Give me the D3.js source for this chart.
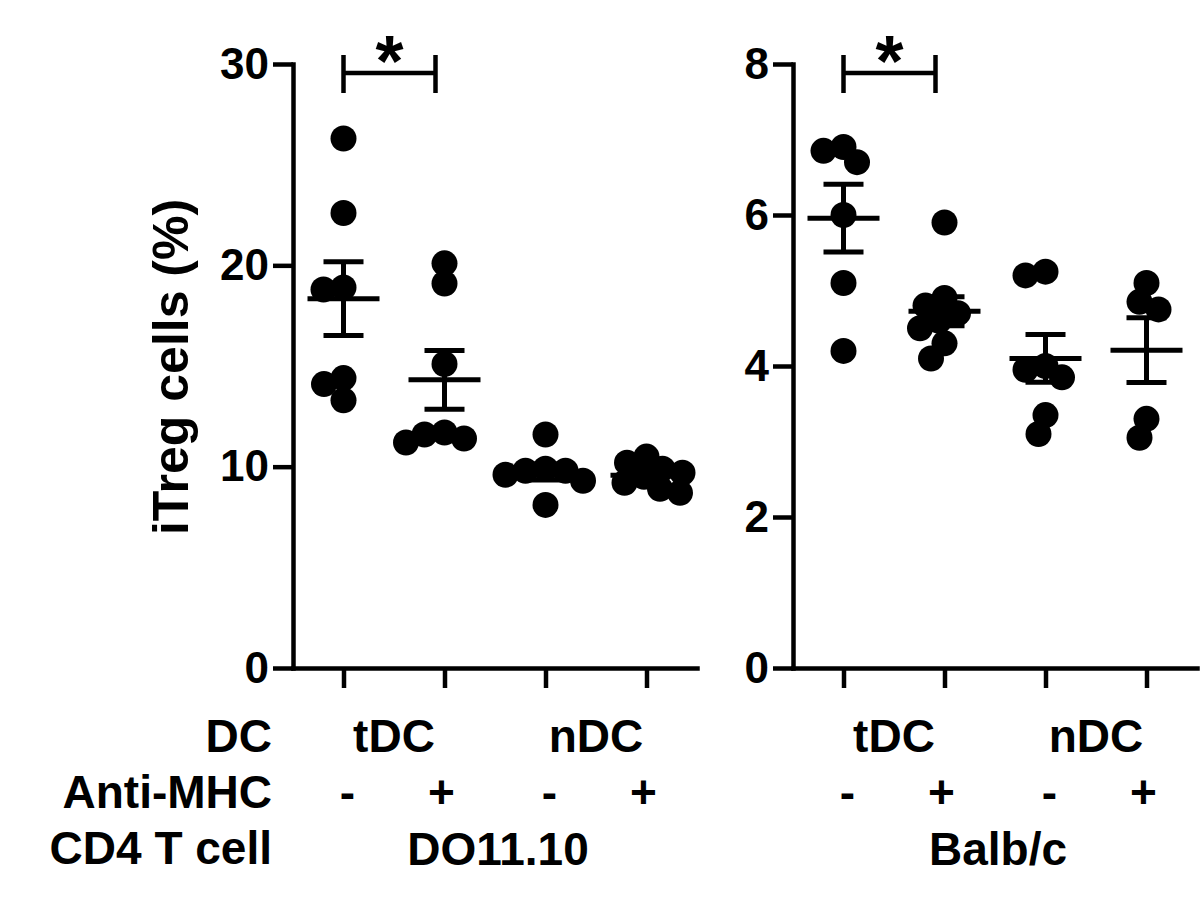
<!DOCTYPE html>
<html>
<head>
<meta charset="utf-8">
<script src="https://cdn.jsdelivr.net/npm/d3@7"></script>
<style>
  html, body { margin: 0; padding: 0; background: #ffffff; }
  svg { display: block; }
  text { font-family: "Liberation Sans", Arial, sans-serif; font-weight: bold; fill: #000; }
</style>
</head>
<body>
<svg id="chart" width="1200" height="901"></svg>
<script>
// ---------------- data ----------------
const groupKeys = ["tDC-", "tDC+", "nDC-", "nDC+"];
const dcLabels = ["tDC", "nDC"];
const antiMHCLabels = ["-", "+", "-", "+"];
const rowLabels = ["DC", "Anti-MHC", "CD4 T cell"];
const yTitle = "iTreg cells (%)";
const panelTitles = ["DO11.10", "Balb/c"];

const do11Values = [
  [26.3, 22.6, 18.9, 18.8, 14.4, 14.1, 13.3],
  [20.1, 19.1, 15.1, 11.7, 11.6, 11.4, 11.2],
  [11.6, 9.9, 9.8, 9.8, 9.6, 9.3, 8.1],
  [10.5, 10.2, 9.9, 9.7, 9.5, 9.2, 8.9, 8.7]
];
const balbValues = [
  [6.85, 6.9, 6.7, 6.0, 5.1, 4.2],
  [5.9, 4.9, 4.8, 4.7, 4.6, 4.5, 4.3, 4.1],
  [5.25, 5.2, 4.0, 3.95, 3.85, 3.35, 3.1],
  [5.1, 4.85, 4.75, 3.3, 3.05]
];
const do11Ticks = [0, 10, 20, 30];
const balbTicks = [0, 2, 4, 6, 8];
const do11Max = 30;
const balbMax = 8;
const sigLabel = "*";

// ---------------- layout ----------------
const svg = d3.select("#chart");
const yTop = 64, yBottom = 668;
const dotR = 13;
const lw = 4.5;

function beeswarm(vals, y, cx, minDist) {
  const placed = [];
  const sorted = vals.map((v, i) => ({v, i})).sort((a, b) => b.v - a.v);
  sorted.forEach(d => {
    const py = y(d.v);
    let chosen = 0;
    for (let k = 0; k < 200; k++) {
      const cands = k === 0 ? [0] : [-k * 0.5, k * 0.5];
      let ok = null;
      for (const off of cands) {
        const good = placed.every(p => Math.hypot(p.x - (cx + off), p.y - py) >= minDist);
        if (good) { ok = off; break; }
      }
      if (ok !== null) { chosen = ok; break; }
    }
    placed.push({x: cx + chosen, y: py, v: d.v});
  });
  return placed;
}

function drawPanel(cfg) {
  const g = svg.append("g");
  const x = d3.scalePoint().domain(groupKeys).range([cfg.x0, cfg.x1]).padding(0.5);
  const y = d3.scaleLinear().domain([0, cfg.max]).range([yBottom, yTop]);

  // y axis
  const yAxis = d3.axisLeft(y).tickValues(cfg.ticks).tickSize(20).tickSizeOuter(0).tickPadding(4);
  const ya = g.append("g").attr("transform", `translate(${cfg.x0},0)`).call(yAxis);
  ya.select(".domain").attr("stroke", "#000").attr("stroke-width", lw).attr("stroke-linecap", "square");
  ya.selectAll(".tick line").attr("stroke", "#000").attr("stroke-width", lw);
  ya.selectAll(".tick text").style("font-size", "44px").attr("fill", "#000");

  // x axis
  const xAxis = d3.axisBottom(x).tickSize(20).tickSizeOuter(0).tickFormat("");
  const xa = g.append("g").attr("transform", `translate(0,${yBottom})`).call(xAxis);
  xa.select(".domain").attr("stroke", "#000").attr("stroke-width", lw).attr("stroke-linecap", "square");
  xa.selectAll(".tick line").attr("stroke", "#000").attr("stroke-width", lw);

  // dots
  cfg.values.forEach((vals, gi) => {
    const cx = x(groupKeys[gi]);
    const pts = beeswarm(vals, y, cx, 20);
    g.selectAll(null).data(pts).enter().append("circle")
      .attr("cx", d => d.x).attr("cy", d => d.y).attr("r", dotR).attr("fill", "#000");

    const m = d3.mean(vals);
    const sem = d3.deviation(vals) / Math.sqrt(vals.length);
    const lines = [
      [cx - 36, y(m), cx + 36, y(m)],
      [cx, y(m + sem), cx, y(m - sem)],
      [cx - 20, y(m + sem), cx + 20, y(m + sem)],
      [cx - 20, y(m - sem), cx + 20, y(m - sem)]
    ];
    g.selectAll(null).data(lines).enter().append("line")
      .attr("x1", d => d[0]).attr("y1", d => d[1]).attr("x2", d => d[2]).attr("y2", d => d[3])
      .attr("stroke", "#000").attr("stroke-width", 5);
  });

  // significance bracket
  const bx1 = x(groupKeys[0]), bx2 = x(groupKeys[1]) - 9;
  const by = yTop + 9;
  const br = [[bx1, by, bx2, by], [bx1, by - 18, bx1, by + 20], [bx2, by - 18, bx2, by + 20]];
  g.selectAll(null).data(br).enter().append("line")
    .attr("x1", d => d[0]).attr("y1", d => d[1]).attr("x2", d => d[2]).attr("y2", d => d[3])
    .attr("stroke", "#000").attr("stroke-width", lw);
  g.append("text").attr("x", (bx1 + bx2) / 2).attr("y", 86).attr("text-anchor", "middle")
    .style("font-size", "72px").text(sigLabel);

  // category rows
  const mid1 = (x(groupKeys[0]) + x(groupKeys[1])) / 2;
  const mid2 = (x(groupKeys[2]) + x(groupKeys[3])) / 2;
  g.selectAll(null).data(dcLabels).enter().append("text")
    .attr("x", (d, i) => i === 0 ? mid1 : mid2).attr("y", 752)
    .attr("text-anchor", "middle").style("font-size", "46px").text(d => d);
  g.selectAll(null).data(antiMHCLabels).enter().append("text")
    .attr("x", (d, i) => x(groupKeys[i]) + (d === "-" ? 4 : -3)).attr("y", 808)
    .attr("text-anchor", "middle").style("font-size", "46px").text(d => d);
  g.append("text").attr("x", (mid1 + mid2) / 2 + 3).attr("y", 865)
    .attr("text-anchor", "middle").style("font-size", "46px").text(cfg.title);
}

drawPanel({x0: 293, x1: 697, max: do11Max, ticks: do11Ticks, values: do11Values, title: panelTitles[0]});
drawPanel({x0: 793, x1: 1197, max: balbMax, ticks: balbTicks, values: balbValues, title: panelTitles[1]});

// row labels
svg.selectAll(null).data(rowLabels).enter().append("text")
  .attr("x", 272).attr("y", (d, i) => [752, 808, 864][i])
  .attr("text-anchor", "end").style("font-size", "46px").text(d => d);

// y title
svg.append("text").attr("transform", "translate(188,367) rotate(-90)")
  .attr("text-anchor", "middle").style("font-size", "50px").text(yTitle);
</script>
</body>
</html>
